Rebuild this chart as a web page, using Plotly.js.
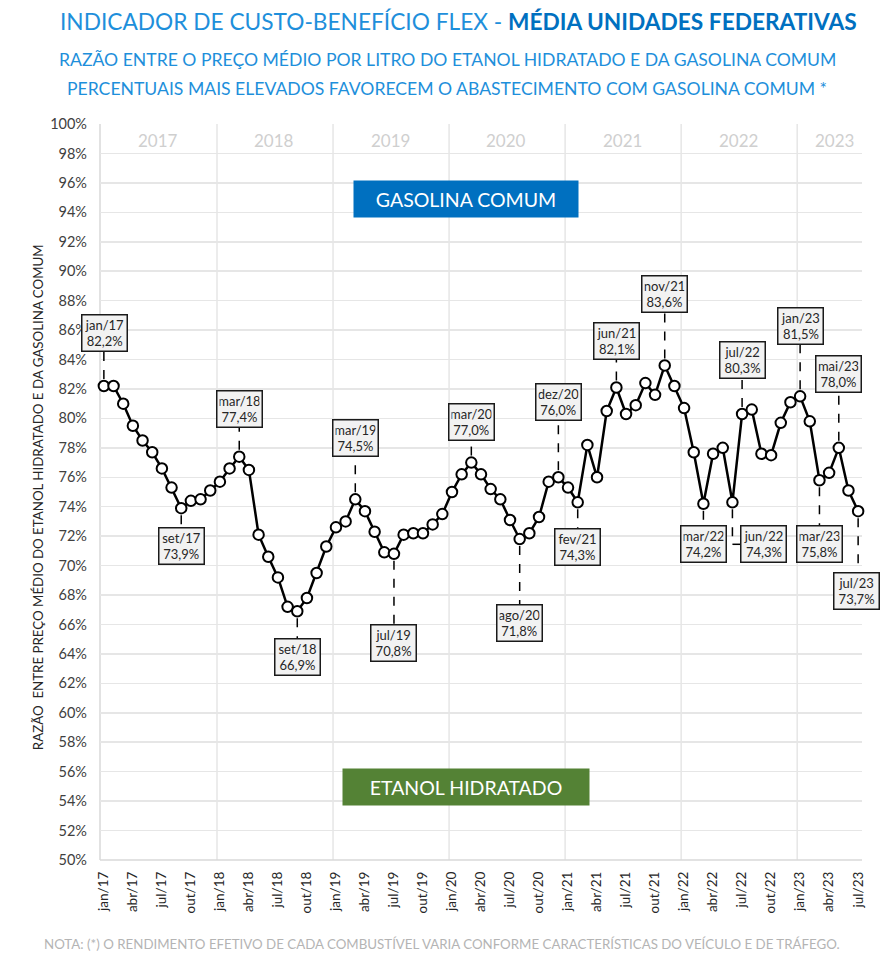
<!DOCTYPE html>
<html><head><meta charset="utf-8">
<script src="https://cdn.plot.ly/plotly-3.0.1.min.js"></script>
<style>html,body{margin:0;padding:0;background:#fff;}#chart{width:886px;height:965px;}</style>
</head><body><div id="chart"></div>
<script>
const months = ["jan","fev","mar","abr","mai","jun","jul","ago","set","out","nov","dez"];
const years = ["17","18","19","20","21","22","23"];
const yearNames = ["2017","2018","2019","2020","2021","2022","2023"];
const categories = [];
years.forEach(y => months.forEach(m => categories.push(m + "/" + y)));
categories.length = 79; // jan/17 .. jul/23

const ratio2017 = [82.2, 82.2, 81.0, 79.5, 78.5, 77.7, 76.6, 75.3, 73.9, 74.4, 74.5, 75.1];
const ratio2018 = [75.7, 76.6, 77.4, 76.5, 72.1, 70.6, 69.2, 67.2, 66.9, 67.8, 69.5, 71.3];
const ratio2019 = [72.6, 73.0, 74.5, 73.7, 72.3, 70.9, 70.8, 72.1, 72.2, 72.2, 72.8, 73.5];
const ratio2020 = [75.0, 76.2, 77.0, 76.2, 75.2, 74.5, 73.1, 71.8, 72.2, 73.3, 75.7, 76.0];
const ratio2021 = [75.3, 74.3, 78.2, 76.0, 80.5, 82.1, 80.3, 80.9, 82.4, 81.6, 83.6, 82.2];
const ratio2022 = [80.7, 77.7, 74.2, 77.6, 78.0, 74.3, 80.3, 80.6, 77.6, 77.5, 79.7, 81.1];
const ratio2023 = [81.5, 79.8, 75.8, 76.3, 78.0, 75.1, 73.7];
const ratio = [].concat(ratio2017, ratio2018, ratio2019, ratio2020, ratio2021, ratio2022, ratio2023);

const highlighted = ["jan/17","set/17","mar/18","set/18","mar/19","jul/19","mar/20","ago/20","dez/20","fev/21","jun/21","nov/21","mar/22","jun/22","jul/22","jan/23","mar/23","mai/23","jul/23"];

// label placement (screen pixels, + = down / right)
const labelOffsets = {
  "jan/17":[1,-53], "set/17":[0,38], "mar/18":[0,-48], "set/18":[0,46],
  "mar/19":[0,-61], "jul/19":[0,89], "mar/20":[0,-41], "ago/20":[0,84],
  "dez/20":[0,-75], "fev/21":[0,45], "jun/21":[0,-46], "nov/21":[0,-71],
  "mar/22":[0,40], "jun/22":[31,42], "jul/22":[0,-54], "jan/23":[0,-70],
  "mar/23":[0,64], "mai/23":[0,-74], "jul/23":[-2,80]
};

const xIdx = categories.map((c,i)=>i);
const tickVals = xIdx.filter(i => i % 3 === 0);
const tickText = tickVals.map(i => categories[i]);
const fmt = v => v.toFixed(1).replace(".", ",") + "%";

const FONT = "Lato, 'Open Sans', sans-serif";
const shapes = [];
const annotations = [];

// vertical year gridlines
yearNames.forEach((y,k) => {
  if (k === 0) return;
  shapes.push({type:"line", xref:"x", yref:"paper", x0:12*k-0.3, x1:12*k-0.3, y0:0, y1:1,
    line:{color:"#e6e6e6", width:1.5}, layer:"below"});
  });
yearNames.forEach((y,k) => {
  const cx = (k < 6) ? 12*k + 5.6 : 75.6;
  annotations.push({xref:"x", yref:"paper", x:cx, y:0.978, text:y, showarrow:false,
    font:{family:FONT, size:17, color:"#cfcfcf"}, yanchor:"middle"});
});

const BH = 18; const BW = 23;
highlighted.forEach(c => {
  const i = categories.indexOf(c);
  const v = ratio[i];
  const [dx, dy] = labelOffsets[c];
  if (Math.abs(dx) < 5) {
    const y0 = dy < 0 ? 7 : -7;
    const y1 = dy < 0 ? (-dy - BH) : (-dy + BH);
    shapes.push({type:"line", xref:"x", yref:"y", xsizemode:"pixel", ysizemode:"pixel",
      xanchor:i, yanchor:v, x0:0, x1:0, y0:y0, y1:y1,
      line:{color:"#000", width:1.5, dash:"dash"}});
  } else {
    shapes.push({type:"line", xref:"x", yref:"y", xsizemode:"pixel", ysizemode:"pixel",
      xanchor:i, yanchor:v, x0:0, x1:0, y0:-7, y1:-dy,
      line:{color:"#000", width:1.5, dash:"dash"}});
    shapes.push({type:"line", xref:"x", yref:"y", xsizemode:"pixel", ysizemode:"pixel",
      xanchor:i, yanchor:v, x0:0, x1:dx - BW, y0:-dy, y1:-dy,
      line:{color:"#000", width:1.5}});
  }
  annotations.push({xref:"x", yref:"y", x:i, y:v, xshift:dx, yshift:-dy,
    text: c + "<br>" + fmt(v), showarrow:false, align:"center",
    bgcolor:"#f2f2f2", bordercolor:"#1a1a1a", borderwidth:1.5, borderpad:2,
    width:40, height:31, xanchor:"center", yanchor:"middle",
    font:{family:FONT, size:13, color:"#262626"}});
});

// header texts
annotations.push({xref:"paper", yref:"paper", x:0.471, y:1.1386, xanchor:"center", yanchor:"middle", showarrow:false,
  text:"INDICADOR DE CUSTO-BENEFÍCIO FLEX - <b><span style='color:#0070c0'>MÉDIA UNIDADES FEDERATIVAS</span></b>",
  font:{family:FONT, size:22.7, color:"#1e8fdb"}});
annotations.push({xref:"paper", yref:"paper", x:0.456, y:1.0883, xanchor:"center", yanchor:"middle", showarrow:false,
  text:"RAZÃO ENTRE O PREÇO MÉDIO POR LITRO DO ETANOL HIDRATADO E DA GASOLINA COMUM",
  font:{family:FONT, size:17.6, color:"#1e8fdb"}});
annotations.push({xref:"paper", yref:"paper", x:0.456, y:1.0476, xanchor:"center", yanchor:"middle", showarrow:false,
  text:"PERCENTUAIS MAIS ELEVADOS FAVORECEM O ABASTECIMENTO COM GASOLINA COMUM *",
  font:{family:FONT, size:17.6, color:"#1e8fdb"}});
annotations.push({xref:"paper", yref:"paper", x:0.449, y:-0.114, xanchor:"center", yanchor:"middle", showarrow:false,
  text:"NOTA: (*) O RENDIMENTO EFETIVO DE CADA COMBUSTÍVEL VARIA CONFORME CARACTERÍSTICAS DO VEÍCULO E DE TRÁFEGO.",
  font:{family:FONT, size:13.3, color:"#b4b4b4"}});
annotations.push({xref:"paper", yref:"paper", x:-0.0814, y:0.493, xanchor:"center", yanchor:"middle", showarrow:false,
  textangle:-90, text:"RAZÃO  ENTRE PREÇO MÉDIO DO ETANOL HIDRATADO E DA GASOLINA COMUM",
  font:{family:FONT, size:13.3, color:"#262626"}});
// zone boxes
annotations.push({xref:"paper", yref:"y", x:0.4803, y:94.9, xanchor:"center", yanchor:"middle", showarrow:false,
  text:"GASOLINA COMUM", bgcolor:"#0070c0", width:220, height:32, borderpad:2,
  font:{family:FONT, size:19.5, color:"#ffffff"}});
annotations.push({xref:"paper", yref:"y", x:0.4803, y:54.93, xanchor:"center", yanchor:"middle", showarrow:false,
  text:"ETANOL HIDRATADO", bgcolor:"#548235", width:242, height:32, borderpad:2,
  font:{family:FONT, size:19.5, color:"#ffffff"}});

const trace = {
  x: xIdx, y: ratio, type:"scatter", mode:"lines+markers",
  line:{color:"#000", width:2.5},
  marker:{symbol:"circle", size:10.5, color:"#ffffff", line:{color:"#000", width:2}},
  hoverinfo:"skip", cliponaxis:false
};

const layout = {
  width:886, height:965,
  margin:{l:100, r:24, t:124, b:105},
  paper_bgcolor:"#ffffff", plot_bgcolor:"#ffffff",
  showlegend:false,
  font:{family:FONT, color:"#333"},
  xaxis:{range:[-0.4, 78.4], tickvals:tickVals, ticktext:tickText, tickangle:-90,
    showgrid:false, zeroline:false, showline:false, ticks:"", ticklabelstandoff:8,
    tickfont:{family:FONT, size:13.5, color:"#262626"}},
  yaxis:{range:[50,100], dtick:2, tick0:50, ticksuffix:"%", showgrid:true,
    gridcolor:"#e6e6e6", gridwidth:1.5, zeroline:false, showline:false, ticks:"", ticklabelstandoff:12,
    tickfont:{family:FONT, size:14.5, color:"#404040"}},
  shapes: shapes.concat([
    {type:"line", xref:"paper", yref:"paper", x0:0, x1:0, y0:0, y1:1, line:{color:"#d9d9d9", width:1.5}, layer:"below"},
    {type:"line", xref:"paper", yref:"paper", x0:0, x1:1, y0:0, y1:0, line:{color:"#d9d9d9", width:1.5}, layer:"below"}
  ]),
  annotations: annotations
};

Plotly.newPlot("chart", [trace], layout, {staticPlot:true, displayModeBar:false});
</script></body></html>
